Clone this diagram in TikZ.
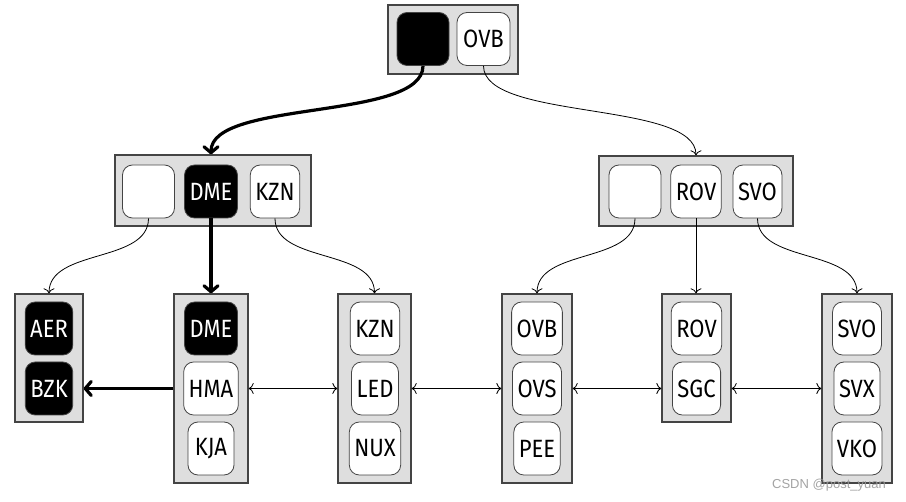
\documentclass[tikz,border=0pt]{standalone}
\usepackage{fontspec}
\setmainfont{Fira Sans}[FakeStretch=0.88]
\newfontfamily\wmfont{Liberation Sans}
\usetikzlibrary{arrows.meta}
\definecolor{boxgray}{HTML}{DEDEDE}
\definecolor{edgegray}{HTML}{444444}
\begin{document}
\begin{tikzpicture}[x=1pt,y=-1pt,
  outerbox/.style={draw=edgegray, line width=1.3pt, fill=boxgray, rectangle, inner sep=0pt},
  item/.style={draw=edgegray, line width=0.8pt, fill=white, rounded corners=10pt,
    minimum height=53pt, minimum width=46pt, inner xsep=5pt, inner ysep=0pt,
    font=\fontsize{25}{25}\selectfont},
  blk/.style={item, fill=black, text=white},
  emptyitem/.style={item, minimum width=52pt},
  thinarrow/.style={line width=0.8pt, -{To[length=5pt,width=11pt]}},
  thinboth/.style={line width=0.8pt, {To[length=5pt,width=11pt]}-{To[length=5pt,width=11pt]}},
  thickarrow/.style={line width=3.2pt, -{Straight Barb[length=6pt,width=14pt,line join=round,line cap=round]}}]
\useasboundingbox (0,0) rectangle (906,502);

% outer boxes
\node[outerbox, minimum width=130pt, minimum height=69pt] (root) at (453,39.5) {};
\node[outerbox, minimum width=196pt, minimum height=71pt] (lbox) at (213,190.5) {};
\node[outerbox, minimum width=194pt, minimum height=70pt] (rbox) at (696,191) {};
\node[outerbox, minimum width=68pt, minimum height=128pt] (baer) at (49,358) {};
\node[outerbox, minimum width=74pt, minimum height=189pt] (bdme) at (211,388.5) {};
\node[outerbox, minimum width=73pt, minimum height=189pt] (bkzn) at (374.5,388.5) {};
\node[outerbox, minimum width=70pt, minimum height=189pt] (bovb) at (537,388.5) {};
\node[outerbox, minimum width=69pt, minimum height=128pt] (brov) at (696.5,358) {};
\node[outerbox, minimum width=70pt, minimum height=189pt] (bsvo) at (857,388.5) {};

% root items
\node[blk, minimum width=52pt] (r0) at (423,39) {};
\node[item, minimum width=53pt] (r1) at (483.5,39) {OVB};

% level 2
\node[emptyitem] (l0) at (148.5,191.5) {};
\node[blk] (l1) at (211,191.5) {DME};
\node[item] (l2) at (275,191.5) {KZN};
\node[emptyitem] (q0) at (635,191.5) {};
\node[item] (q1) at (696,191.5) {ROV};
\node[item] (q2) at (757.5,191.5) {SVO};

% leaves
\node[blk] (aer) at (49,328.5) {AER};
\node[blk] (bzk) at (49,388.5) {BZK};
\node[blk] (dme) at (211,328.5) {DME};
\node[item] (hma) at (211,388.5) {HMA};
\node[item] (kja) at (211,448.5) {KJA};
\node[item] (kzn) at (375,328.5) {KZN};
\node[item] (led) at (375,388.5) {LED};
\node[item] (nux) at (375,448.5) {NUX};
\node[item] (ovb) at (537,328.5) {OVB};
\node[item] (ovs) at (537,388.5) {OVS};
\node[item] (pee) at (537,448.5) {PEE};
\node[item] (rov) at (696.5,328.5) {ROV};
\node[item] (sgc) at (696.5,388.5) {SGC};
\node[item] (svo) at (857,328.5) {SVO};
\node[item] (svx) at (857,388.5) {SVX};
\node[item] (vko) at (857,448.5) {VKO};

% connectors root -> level 2
\draw[thickarrow] (r0.south) .. controls +(0,55) and +(0,-55) .. (l1 |- lbox.north);
\draw[thinarrow] (r1.south) .. controls +(0,55) and +(0,-55) .. (q1 |- rbox.north);

% level 2 -> leaves
\draw[thinarrow] (l0.south) .. controls +(0,45) and +(0,-45) .. (baer.north);
\draw[thickarrow] (l1.south) -- (bdme.north);
\draw[thinarrow] (l2.south) .. controls +(0,45) and +(0,-45) .. (bkzn.north);
\draw[thinarrow] (q0.south) .. controls +(0,45) and +(0,-45) .. (bovb.north);
\draw[thinarrow] (q1.south) -- (q1 |- brov.north);
\draw[thinarrow] (q2.south) .. controls +(0,45) and +(0,-45) .. (bsvo.north);

% sibling links
\draw[thickarrow] (bdme.west |- hma) -- (baer.east |- bzk);
\draw[thinboth] (bdme.east |- hma) -- (bkzn.west |- led);
\draw[thinboth] (bkzn.east |- led) -- (bovb.west |- ovs);
\draw[thinboth] (bovb.east |- ovs) -- (brov.west |- sgc);
\draw[thinboth] (brov.east |- sgc) -- (bsvo.west |- svx);

% watermark
\node[font=\wmfont\fontsize{13}{13}\selectfont, text=black!40, opacity=0.9, inner sep=0pt] (wm) at (829,485) {CSDN @post\_yuan};
\end{tikzpicture}
\end{document}
